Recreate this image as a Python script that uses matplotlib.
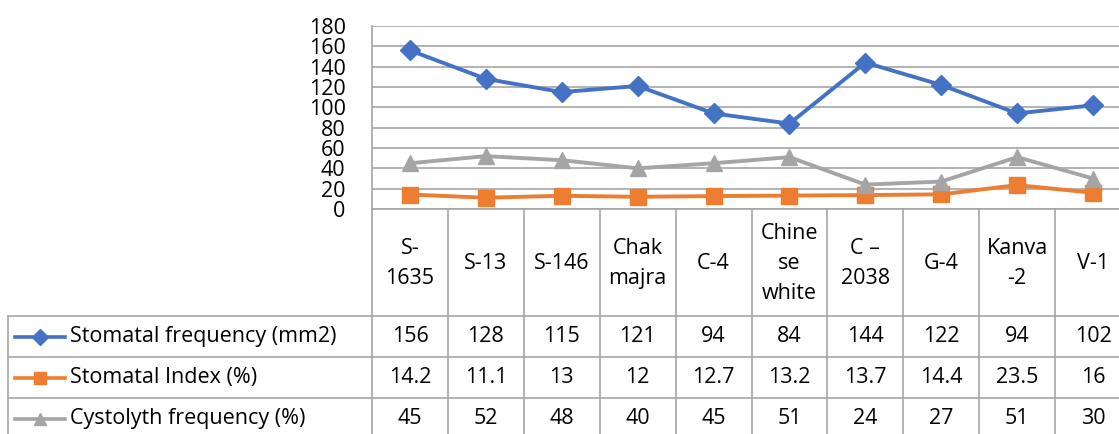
import matplotlib
matplotlib.use('Agg')
import matplotlib.pyplot as plt
from matplotlib.transforms import blended_transform_factory

# ------------------------------------------------------------------ #
# Data
# ------------------------------------------------------------------ #
categories = ['S-\n1635', 'S-13', 'S-146', 'Chak\nmajra', 'C-4', 'Chine\nse\nwhite',
              'C \u2013\n2038', 'G-4', 'Kanva\n-2', 'V-1']
stomatal_freq = [156, 128, 115, 121, 94, 84, 144, 122, 94, 102]
stomatal_index = [14.2, 11.1, 13, 12, 12.7, 13.2, 13.7, 14.4, 23.5, 16]
cystolyth_freq = [45, 52, 48, 40, 45, 51, 24, 27, 51, 30]

series_names = ['Stomatal frequency (mm2)', 'Stomatal Index (%)', 'Cystolyth frequency (%)']
series_values = [stomatal_freq, stomatal_index, cystolyth_freq]
series_labels = [[str(v) for v in stomatal_freq],
                 ['14.2', '11.1', '13', '12', '12.7', '13.2', '13.7', '14.4', '23.5', '16'],
                 [str(v) for v in cystolyth_freq]]
colors = ['#4472C4', '#ED7D31', '#A5A5A5']
markers = ['D', 's', '^']
marker_sizes = [10, 11, 11]

plt.rcParams['font.family'] = ['Open Sans', 'DejaVu Sans']
FS = 15.5
GRID = '#A6A6A6'

W, H = 1119, 434
fig = plt.figure(figsize=(W / 100, H / 100), dpi=100)

# plot area in pixel coords (top-left origin)
px_left, px_top, px_bottom = 372, 26, 209
col_w = 75.9
px_right = px_left + col_w * len(categories)

ax = fig.add_axes([px_left / W, 1 - px_bottom / H, (px_right - px_left) / W, (px_bottom - px_top) / H])
ax.set_xlim(-0.5, len(categories) - 0.5)
ax.set_ylim(0, 180)
ax.set_yticks(range(0, 181, 20))
ax.yaxis.grid(True, color=GRID, linewidth=1.2)
ax.set_axisbelow(True)
ax.set_xticks([])
ax.tick_params(axis='y', length=0, labelsize=FS, pad=19)
for s in ['top', 'right']:
    ax.spines[s].set_visible(False)
ax.spines['left'].set_color(GRID)
ax.spines['bottom'].set_color(GRID)
ax.spines['left'].set_linewidth(1.2)
ax.spines['bottom'].set_linewidth(1.2)

x = list(range(len(categories)))
for vals, c, m, ms in zip(series_values, colors, markers, marker_sizes):
    ax.plot(x, vals, color=c, marker=m, markersize=ms, linewidth=2.8, clip_on=False)

# ------------------------------------------------------------------ #
# Data table underneath
# ------------------------------------------------------------------ #
ov = fig.add_axes([0, 0, 1, 1])
ov.set_xlim(0, W)
ov.set_ylim(H, 0)
ov.axis('off')
bt = blended_transform_factory(ax.transData, ov.transData)

row_tops = [316, 357, 398, 439]
table_left = 8
lw = 1.2

# vertical column lines
for i in range(len(categories) + 1):
    ov.plot([i - 0.5, i - 0.5], [px_bottom, H], color=GRID, lw=lw, transform=bt, clip_on=False)
ov.plot([table_left, table_left], [row_tops[0], H], color=GRID, lw=lw, clip_on=False)
for y in row_tops[:3]:
    ov.plot([table_left, W], [y, y], color=GRID, lw=lw, clip_on=False)

# category labels
for i, cat in enumerate(categories):
    ov.text(i, (px_bottom + row_tops[0]) / 2 + 1, cat, transform=bt, ha='center', va='center',
            fontsize=FS, linespacing=1.55)

# series rows
for r, (name, labels, c, m, ms) in enumerate(zip(series_names, series_labels, colors, markers, marker_sizes)):
    yc = (row_tops[r] + row_tops[r + 1]) / 2
    ov.plot([15, 65], [yc, yc], color=c, lw=2.6)
    ov.plot([40], [yc], color=c, marker=m, markersize=ms * 0.8)
    ov.text(70, yc, name, ha='left', va='center', fontsize=FS)
    for i, lab in enumerate(labels):
        ov.text(i, yc, lab, transform=bt, ha='center', va='center', fontsize=FS)

fig.savefig('out.png', dpi=100)
